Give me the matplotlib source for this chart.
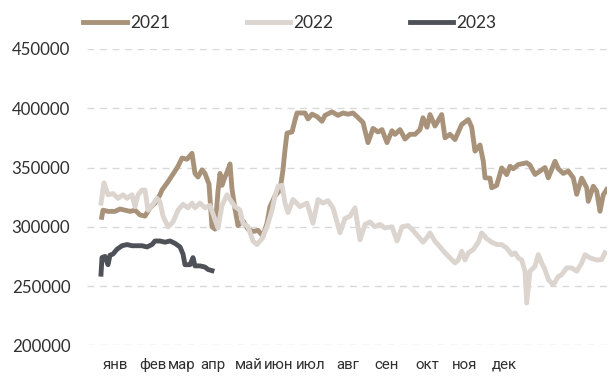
import matplotlib
matplotlib.use("Agg")
from matplotlib import pyplot as plt

# x positions are chart positions along the year (0 = first trading day)
x_2021 = [1.7, 3, 8, 15, 20, 25, 30, 35, 40, 45, 50, 55, 60, 62, 68, 75, 78, 82, 87, 92,
          95, 98, 102, 105, 109, 112, 115, 118, 120, 122, 125, 128, 130, 132, 135, 138,
          143, 148, 153, 158, 163, 167, 170, 175, 180, 183, 185, 187, 192, 195, 197, 205,
          208, 212, 217, 222, 225, 232, 238, 243, 248, 253, 257, 263, 268, 273, 278, 282,
          287, 292, 295, 300, 305, 310, 315, 320, 323, 327, 330, 335, 341.7, 345, 350, 355,
          361.7, 368.3, 371.7, 375, 380, 383.3, 385, 390, 391.7, 396.7, 401.7, 406.7, 410,
          413.3, 418.3, 426.7, 430, 435, 440, 445, 448.3, 455, 458.3, 463.3, 468.3, 473.3,
          476.7, 481.7, 486.7, 488.3, 493.3, 496.7, 500, 503.3, 506.7]
y_2021 = [308000, 314000, 313000, 313000, 315000, 314000, 313000, 314000, 310000, 309000,
          316000, 320000, 327000, 331000, 338000, 347000, 351000, 358000, 357000, 362000,
          345000, 342000, 348000, 345000, 336000, 300000, 298000, 330000, 345000, 335000,
          342000, 348000, 353000, 332000, 315000, 301000, 305000, 298000, 296000, 297000,
          292000, 303000, 317000, 326000, 331000, 348000, 365000, 379000, 380000, 390000,
          396000, 396000, 391000, 395000, 393000, 389000, 394000, 397000, 394000, 396000,
          395000, 396000, 393000, 388000, 371000, 383000, 380000, 382000, 371000, 381000,
          378000, 382000, 374000, 378000, 378000, 382000, 392000, 384000, 394700, 385000,
          394700, 375000, 378000, 373600, 386300, 390500, 384000, 363800, 369000, 355300,
          341300, 341000, 332900, 335000, 349700, 344000, 351100, 349000, 352500, 354000,
          352000, 344100, 347000, 350000, 341300, 355300, 349000, 345000, 347000, 341300,
          327400, 341000, 333000, 321500, 334200, 330000, 313100, 327000, 331400]

x_2022 = [1, 4, 8, 13, 18, 23, 27, 32, 35, 38, 42, 45, 48, 53, 57, 60, 63, 68, 73, 78,
          83, 88, 92, 95, 100, 105, 110, 115, 118, 122, 127, 130, 135, 140, 143, 148, 153,
          157, 162, 167, 172, 175, 178, 182, 185, 188, 193, 200, 207, 213, 218, 223, 228,
          233, 240, 245, 250, 255, 260, 265, 270, 275, 280, 285, 292, 297, 302, 308, 313,
          318, 323, 328, 330, 335, 340, 345, 350, 355, 358.3, 361.7, 365, 368.3, 373.3,
          378.3, 381.7, 386.7, 391.7, 396.7, 401.7, 406.7, 411.7, 415, 418.3, 421.7, 425,
          426.7, 430, 435, 438.3, 441.7, 445, 448.3, 453.3, 458.3, 461.7, 466.7, 471.7,
          476.7, 481.7, 485, 490, 496.7, 501.7, 505]
y_2022 = [320000, 337000, 327000, 328000, 324000, 327000, 324000, 327000, 317000, 327000,
          331000, 331000, 314000, 319000, 324000, 321000, 309000, 300000, 304000, 314000,
          319000, 316000, 320000, 316000, 320000, 316000, 318000, 306000, 299000, 318000,
          327000, 323000, 317000, 314000, 303000, 300000, 288000, 285000, 290000, 300000,
          314000, 326000, 334000, 335000, 320000, 312000, 323000, 317000, 320000, 303000,
          323000, 320000, 322000, 316000, 295000, 307000, 309000, 316000, 289000, 302000,
          304000, 300000, 302000, 299000, 300000, 288000, 300000, 301000, 297000, 292000,
          287000, 292000, 294800, 287800, 283000, 278000, 273700, 269500, 272000, 279300,
          272000, 278000, 280800, 287000, 294800, 290000, 287000, 285000, 285000, 282000,
          276500, 278000, 273700, 272000, 262500, 235700, 262500, 266600, 276500, 269500,
          264000, 255500, 251000, 258000, 259600, 265300, 265300, 262500, 269500, 276500,
          273700, 272000, 272300, 278000]

x_2023 = [1, 2, 5, 8, 10, 13, 17, 22, 27, 32, 37, 42, 47, 52, 55, 60, 65, 70, 75, 80,
          83, 85, 90, 93, 95, 100, 105, 108, 112]
y_2023 = [260000, 274000, 275000, 268000, 276000, 277000, 281000, 284000, 285000, 284000,
          284000, 284000, 283000, 285000, 288000, 288000, 287000, 288000, 286000, 283000,
          277000, 268000, 268000, 274000, 267000, 267000, 266000, 264000, 263000]

months = ['янв', 'фев', 'мар', 'апр', 'май', 'июн', 'июл', 'авг', 'сен', 'окт', 'ноя', 'дек']
month_pos = [15, 53, 82, 113, 149, 179, 211, 248, 287, 327, 365, 404]
y_ticks = [200000, 250000, 300000, 350000, 400000, 450000]

plt.rcParams['font.family'] = ['Lato', 'Roboto', 'DejaVu Sans']

fig = plt.figure(figsize=(6.09, 3.83), dpi=100)
ax = fig.add_axes([87/609, 1 - 345.3/383, 520/609, (345.3 - 49)/383])

ax.plot(x_2021, y_2021, c='#A8937A', lw=3.5, label='2021', solid_joinstyle='round')
ax.plot(x_2022, y_2022, c='#DCD4CE', lw=3.5, label='2022', solid_joinstyle='round')
ax.plot(x_2023, y_2023, c='#4E5258', lw=3.5, label='2023', solid_joinstyle='round')

ax.set_xlim(-13, 507)
ax.set_ylim(200000, 450000)
ax.set_yticks(y_ticks)
ax.set_xticks(month_pos)
ax.set_xticklabels(months, family=['Roboto', 'DejaVu Sans'], fontsize=10.8)
ax.yaxis.grid(True, color='#D9D9D9', linestyle=(0, (5, 4)), lw=1)
ax.set_axisbelow(True)
for s in ax.spines.values():
    s.set_visible(False)
ax.tick_params(axis='both', length=0, colors='#303030')
ax.tick_params(axis='y', pad=12, labelsize=12.2)
ax.tick_params(axis='x', pad=9)

fig.legend(loc='center', bbox_to_anchor=(290/609, 1 - 23/383), ncol=3, frameon=False,
           fontsize=12.5, handlelength=2.5, columnspacing=4.4, handletextpad=0.2,
           labelcolor='#303030')

fig.savefig('out.png', dpi=100)
